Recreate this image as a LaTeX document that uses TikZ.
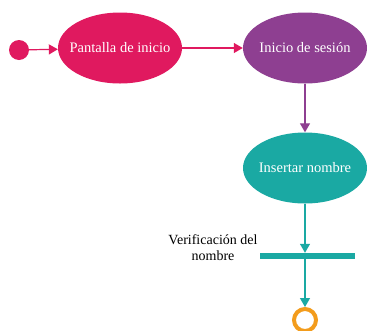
\documentclass[tikz,border=0pt]{standalone}
\usepackage{fontspec}
\setmainfont{Liberation Serif}
\usetikzlibrary{shapes.geometric}
\usetikzlibrary{arrows.meta}
\usetikzlibrary{positioning}

\definecolor{rosa}{HTML}{E0195F}
\definecolor{morado}{HTML}{8E3F91}
\definecolor{verde}{HTML}{1AA9A3}
\definecolor{naranja}{HTML}{F39C1C}

\begin{document}
\begin{tikzpicture}
[x=1pt,y=-1pt,
estado/.style={ellipse,text=white,font=\fontsize{14.5}{16}\selectfont,minimum width=124pt,minimum height=71pt,inner xsep=-8pt,inner ysep=0pt},
flecha/.style={line width=1.2pt,-{Triangle[length=9pt,width=10pt]}}]

\useasboundingbox (0,0) rectangle (367,330);

%estados
\node[circle,fill=rosa,minimum size=20pt,inner sep=0pt] (Inicio) at (19,50) {};
\node[estado,fill=rosa] (Pantalla) at (120,48) {Pantalla de inicio};
\node[estado,fill=morado] (Sesion) at (305,48) {Inicio de sesión};
\node[estado,fill=verde] (Nombre) at (305,168) {Insertar nombre};
\node[rectangle,fill=verde,minimum width=95pt,minimum height=6pt,inner sep=0pt] (Barra) at (307,256) {};
\node[align=center,font=\fontsize{14}{16}\selectfont] (Verif) at (213,248) {Verificación del\\nombre};
\node[circle,draw=naranja,line width=4pt,minimum size=22pt,inner sep=0pt] (Fin) at (305,320) {};

\draw[flecha,rosa] (Inicio) -- (Pantalla);
\draw[flecha,rosa] (Pantalla) -- (Sesion);
\draw[flecha,morado] (Sesion) -- (Nombre);
\draw[flecha,verde] (Nombre) -- (Nombre |- Barra.north);
\draw[flecha,verde] (Nombre |- Barra.south) -- (Fin);

\end{tikzpicture}
\end{document}
